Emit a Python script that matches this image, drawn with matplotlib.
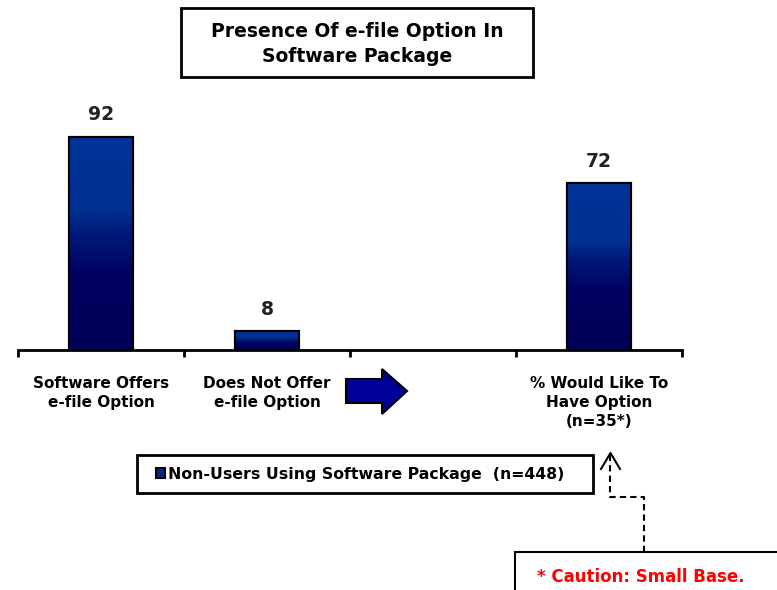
import matplotlib
matplotlib.use("Agg")
import matplotlib.pyplot as plt
import matplotlib.patches as patches
from matplotlib.colors import LinearSegmentedColormap
import numpy as np

# chart data
categories = ["Software Offers\ne-file Option", "Does Not Offer\ne-file Option", "",
              "% Would Like To\nHave Option\n(n=35*)"]
bar_pos = [0, 1, 3]
values = [92, 8, 72]
value_labels = ["92", "8", "72"]
series_name = "Non-Users Using Software Package  (n=448)"
title = "Presence Of e-file Option In\nSoftware Package"
caution = "* Caution: Small Base."

plt.rcParams['font.family'] = ['DejaVu Sans']

fig = plt.figure(figsize=(7.77, 5.9), dpi=100)
ax = fig.add_axes([18 / 777, 240 / 590, 664 / 777, 231.5 / 590])

# gradient: navy at the bottom, brighter blue in the top part
cmap = LinearSegmentedColormap.from_list(
    "bars", [(0.0, "#000058"), (0.35, "#000060"), (0.55, "#001a7a"),
             (0.65, "#003090"), (1.0, "#003399")])
grad = np.linspace(0, 1, 256).reshape(-1, 1)

bars = ax.bar(bar_pos, values, width=0.38, color="#00288c", edgecolor="black",
              linewidth=1.5, zorder=2, label=series_name)
for b in bars:
    x0, y0 = b.get_xy()
    im = ax.imshow(grad, extent=[x0, x0 + b.get_width(), y0, y0 + b.get_height()],
                   origin="lower", cmap=cmap, aspect="auto", zorder=2.1)
    im.set_clip_path(b)
    ax.add_patch(patches.Rectangle((x0, y0), b.get_width(), b.get_height(),
                                   fill=False, ec="black", lw=1.5, zorder=3))

for b, lab in zip(bars, value_labels):
    ax.annotate(lab, (b.get_x() + b.get_width() / 2, b.get_height()),
                xytext=(0, 16), textcoords="offset points", ha="center", va="center",
                fontsize=13.5, fontweight="bold", color="#222222")

ax.set_xlim(-0.5, 3.5)
ax.set_ylim(0, 100)
ax.set_xticks(range(len(categories)))
ax.set_xticklabels(categories, fontsize=11, fontweight="bold", linespacing=1.35)
ax.set_xticks(np.arange(-0.5, 4, 1), minor=True)
ax.tick_params(axis="x", which="major", length=0, pad=18.5)
ax.tick_params(axis="x", which="minor", length=5, width=2, direction="out")
ax.set_yticks([])
for s in ["top", "left", "right"]:
    ax.spines[s].set_visible(False)
ax.spines["bottom"].set_linewidth(2)
ax.patch.set_alpha(0)

leg = ax.legend(loc="center", bbox_to_anchor=(360 / 777, 1 - 474 / 590),
                bbox_transform=fig.transFigure, frameon=False, fontsize=11.3,
                handlelength=0.6, handleheight=0.6, handletextpad=0.15,
                borderpad=0, borderaxespad=0)
for t in leg.get_texts():
    t.set_fontweight("bold")

# overlay in pixel coordinates for boxes and arrows
ov = fig.add_axes([0, 0, 1, 1])
ov.set_xlim(0, 777)
ov.set_ylim(590, 0)
ov.axis("off")
ov.patch.set_alpha(0)

ov.add_patch(patches.Rectangle((137, 455), 456, 38, fill=False, ec="black", lw=2))

ov.add_patch(patches.Rectangle((181, 8), 352, 69, fill=True, fc="white",
                               ec="black", lw=2))
ov.text(357, 44, title, ha="center", va="center", fontsize=13.5,
        fontweight="bold", linespacing=1.35)

arrow = [(346, 379), (382, 379), (382, 369), (407, 391), (382, 414), (382, 403), (346, 403)]
ov.add_patch(patches.Polygon(arrow, closed=True, fc="#000099", ec="black", lw=1.5))

ov.add_patch(patches.Rectangle((515, 552), 300, 60, fc="white", ec="black", lw=1.5))
ov.text(641, 577, caution, ha="center", va="center", fontsize=12,
        fontweight="bold", color="#ff0000")

ov.plot([644, 644, 610, 610], [552, 497, 497, 455], color="black", lw=1.5,
        linestyle=(0, (3, 2)))
ov.plot([601, 610.5, 620], [469, 453, 469], color="black", lw=1.5)

fig.savefig("out.png", dpi=100)
